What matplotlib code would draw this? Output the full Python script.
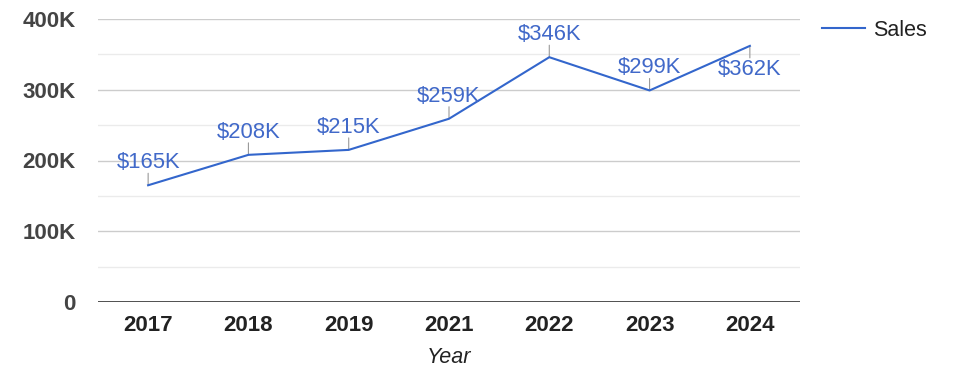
import matplotlib
matplotlib.use("Agg")
import matplotlib.pyplot as plt
from matplotlib.ticker import MultipleLocator, FuncFormatter

years = ["2017", "2018", "2019", "2021", "2022", "2023", "2024"]
sales = [165000, 208000, 215000, 259000, 346000, 299000, 362000]
labels = ["$165K", "$208K", "$215K", "$259K", "$346K", "$299K", "$362K"]
# google puts the last label below the point
label_below = [False, False, False, False, False, False, True]

LINE = "#3366cc"
plt.rcParams["font.family"] = ["Liberation Sans", "DejaVu Sans"]

W, H = 975, 378
fig = plt.figure(figsize=(W / 100, H / 100), dpi=100)
ax = fig.add_axes([98 / W, 1 - 302 / H, (800 - 98) / W, (302 - 19) / H])

x = list(range(len(years)))
ax.plot(x, sales, color=LINE, lw=1.5, label="Sales", zorder=3)

for xi, yi, txt, below in zip(x, sales, labels, label_below):
    sign = -1 if below else 1
    ax.annotate("", xy=(xi, yi), xytext=(0, sign * 12), textcoords="offset pixels",
                arrowprops=dict(arrowstyle="-", color="#999999", lw=0.8,
                                shrinkA=0, shrinkB=0), zorder=2)
    ax.annotate(txt, xy=(xi, yi), xytext=(0, sign * (17 if not below else 13)),
                textcoords="offset pixels", ha="center",
                va="top" if below else "baseline",
                fontsize=15.8, color="#4169c9", zorder=4)

ax.set_xlim(-0.5, len(years) - 0.5)
ax.set_ylim(0, 400000)
ax.set_xticks(x)
ax.set_xticklabels(years, fontsize=16, fontweight="bold", color="#222222")
ax.yaxis.set_major_locator(MultipleLocator(100000))
ax.yaxis.set_minor_locator(MultipleLocator(50000))
ax.yaxis.set_major_formatter(FuncFormatter(lambda v, p: "0" if v == 0 else f"{int(v / 1000)}K"))
for lab in ax.get_yticklabels():
    lab.set_fontsize(16)
    lab.set_fontweight("bold")
    lab.set_color("#444444")

ax.grid(axis="y", which="major", color="#cccccc", lw=1)
ax.grid(axis="y", which="minor", color="#ebebeb", lw=1)
ax.set_axisbelow(True)
ax.axhline(0, color="#333333", lw=1.2, zorder=2)
for s in ax.spines.values():
    s.set_visible(False)
ax.tick_params(axis="both", which="both", length=0)
ax.tick_params(axis="y", pad=16)
ax.tick_params(axis="x", pad=9.5)

ax.set_xlabel("Year", fontsize=15.5, style="italic", color="#222222", labelpad=8)

fig.legend(loc="center left", bbox_to_anchor=(822 / W, 1 - 30 / H), frameon=False,
           fontsize=15.5, handlelength=2.0, handletextpad=0.38, borderpad=0,
           borderaxespad=0, labelcolor="#222222")

fig.savefig("out.png", dpi=100, facecolor="white")
